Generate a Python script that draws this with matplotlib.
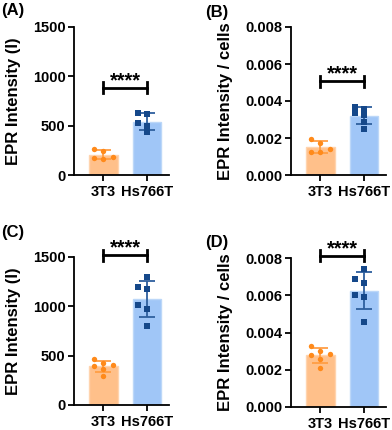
import numpy as np
import matplotlib
matplotlib.use('Agg')
import matplotlib.pyplot as plt
from matplotlib.ticker import FormatStrFormatter

plt.rcParams['font.family'] = ['Liberation Sans', 'DejaVu Sans']
plt.rcParams['font.weight'] = 'bold'

# Data
groups = ['3T3', 'Hs766T']

a_3t3 = [245, 268, 160, 175, 185]
a_hs = [631, 621, 524, 496, 432]
b_3t3 = [0.00193, 0.00175, 0.00139, 0.00123, 0.00124]
b_hs = [0.00359, 0.00368, 0.00335, 0.00324, 0.00288, 0.00247]
c_3t3 = [405, 429, 466, 395, 361, 294]
c_hs = [1294, 1193, 1172, 1013, 969, 803]
d_3t3 = [0.00330, 0.00301, 0.00280, 0.00287, 0.00258, 0.00210]
d_hs = [0.00742, 0.00685, 0.00668, 0.00602, 0.00593, 0.00459]

panel_labels = ['(A)', '(B)', '(C)', '(D)']
y_labels = ['EPR Intensity (I)', 'EPR Intensity / cells',
            'EPR Intensity (I)', 'EPR Intensity / cells']
y_ticks_int = [0, 500, 1000, 1500]
y_ticks_cell = [0, 0.002, 0.004, 0.006, 0.008]
bracket_y = [885, 0.00508, 1520, 0.00811]
sig_text = '****'

bar_colors = ['#FFC08A', '#A0C6F7']
edge_colors = ['#FFD4AE', '#BCD7F8']
point_colors = ['#FF8A1A', '#15488A']
err_colors = ['#FF9E45', '#2E5F9E']
markers = ['o', 's']

fig = plt.figure(figsize=(3.92, 4.30), dpi=100)
W, H = 392, 430


def px_axes(left, top, bottom, width=95):
    return fig.add_axes([left / W, 1 - bottom / H, width / W, (bottom - top) / H])


axes = [
    px_axes(74, 27, 175),
    px_axes(291, 27, 175),
    px_axes(74, 257, 405),
    px_axes(291, 258, 407),
]


def swarm(vals, thr, w):
    order = np.argsort(vals)
    offs = np.zeros(len(vals))
    placed = []
    for i in order:
        for cand in (0, -w, w, -2 * w, 2 * w):
            if all(not (abs(vals[i] - v) < thr and o == cand) for v, o in placed):
                offs[i] = cand
                placed.append((vals[i], cand))
                break
    return offs


datasets = [(a_3t3, a_hs), (b_3t3, b_hs), (c_3t3, c_hs), (d_3t3, d_hs)]
yticks_all = [y_ticks_int, y_ticks_cell, y_ticks_int, y_ticks_cell]
label_pos = [(1, 10), (205, 12), (1, 233), (205, 242)]

for k, ax in enumerate(axes):
    yt = yticks_all[k]
    ax.set_ylim(0, yt[-1])
    ax.set_xlim(-0.67, 1.5)
    thr = yt[-1] / 148 * 6
    for j, vals in enumerate(datasets[k]):
        vals = np.array(vals)
        m, sd = vals.mean(), vals.std(ddof=1)
        ax.bar(j, m, width=0.65, color=bar_colors[j], edgecolor=edge_colors[j],
               linewidth=1.0, zorder=1)
        ax.errorbar(j, m, yerr=sd, color=err_colors[j], capsize=5.5, capthick=1.3,
                    elinewidth=1.3, zorder=3)
        offs = swarm(vals, thr, 0.21)
        ax.scatter(j + offs, vals, s=15, marker=markers[j], color=point_colors[j],
                   zorder=4, linewidths=0)

    # significance bracket
    by = bracket_y[k]
    tick = yt[-1] / 148 * 5.5
    ax.plot([0, 1], [by, by], color='black', lw=2, clip_on=False, zorder=5)
    for xx in (0, 1):
        ax.plot([xx, xx], [by - tick, by + tick], color='black', lw=2,
                clip_on=False, zorder=5)
    ax.annotate(sig_text, (0.5, by), xytext=(0, -2), textcoords='offset points',
                ha='center', va='bottom', fontsize=14.5, fontweight='bold',
                annotation_clip=False)

    ax.set_yticks(yt)
    if k % 2 == 1:
        ax.yaxis.set_major_formatter(FormatStrFormatter('%.3f'))
    ax.set_xticks([0, 1])
    ax.set_xticklabels(groups)
    for s in ('top', 'right'):
        ax.spines[s].set_visible(False)
    for s in ('left', 'bottom'):
        ax.spines[s].set_linewidth(1.3)
    ax.tick_params(width=1.3, length=4, labelsize=10.5, pad=2)
    ax.tick_params(axis='x', pad=3)
    for lab in ax.get_xticklabels() + ax.get_yticklabels():
        lab.set_fontweight('bold')

    ax.set_ylabel(y_labels[k], fontsize=12, fontweight='bold')
    ax.yaxis.set_label_coords(-0.56 if k % 2 == 0 else -0.61, 0.5)

    lx, ly = label_pos[k]
    fig.text(lx / W, 1 - ly / H, panel_labels[k], fontsize=12,
             fontweight='bold', va='center', ha='left')

fig.savefig('out.png', dpi=100)
